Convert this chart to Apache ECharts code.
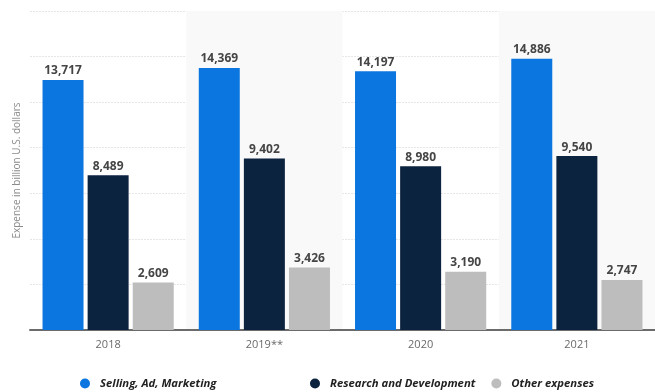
<!DOCTYPE html>
<html>
<head>
<meta charset="utf-8">
<style>
  html, body { margin: 0; padding: 0; background: #fff; }
  #chart { width: 655px; height: 392px; }
</style>
<script src="https://cdn.jsdelivr.net/npm/echarts@6/dist/echarts.min.js"></script>
</head>
<body>
<div id="chart"></div>
<script>
// Expense categories per year (billion U.S. dollars)
const years = ['2018', '2019**', '2020', '2021'];
const sellingAdMarketing = [13717, 14369, 14197, 14886];
const researchDevelopment = [8489, 9402, 8980, 9540];
const otherExpenses = [2609, 3426, 3190, 2747];

const seriesNames = ['Selling, Ad, Marketing', 'Research and Development', 'Other expenses'];
const seriesColors = ['#0b76df', '#0c2340', '#bdbdbd'];

const chart = echarts.init(document.getElementById('chart'), null, { renderer: 'canvas' });

const labelStyle = {
  show: true,
  position: 'top',
  distance: 3,
  color: '#454545',
  fontFamily: 'Open Sans, Arial, sans-serif',
  fontWeight: 'bold',
  fontSize: 12,
  formatter: p => p.value.toLocaleString('en-US')
};

const legendText = {
  color: '#222',
  fontFamily: 'Open Sans, Arial, sans-serif',
  fontStyle: 'italic',
  fontWeight: 'bold',
  fontSize: 11.3,
  padding: [0, 0, 0, 5]
};

function makeSeries(name, data, color) {
  return {
    name: name,
    type: 'bar',
    data: data,
    barWidth: 41,
    barGap: '10%',
    itemStyle: { color: color },
    label: labelStyle,
    emphasis: { disabled: true }
  };
}

chart.setOption({
  animation: false,
  grid: { left: 30, top: 11, width: 632, bottom: 62, containLabel: false },
  legend: [
    {
      data: [seriesNames[0]],
      left: 75, top: 373,
      icon: 'circle', itemWidth: 10, itemHeight: 10,
      textStyle: legendText
    },
    {
      data: [seriesNames[1], seriesNames[2]],
      left: 305, top: 373,
      icon: 'circle', itemWidth: 10, itemHeight: 10, itemGap: 16,
      textStyle: legendText
    }
  ],
  xAxis: {
    type: 'category',
    data: years,
    axisTick: { show: false },
    axisLine: { lineStyle: { color: '#6b6b6b', width: 2 } },
    axisLabel: { color: '#6a6a6a', fontSize: 11, margin: 9, fontFamily: 'Open Sans, Arial, sans-serif' },
    splitArea: { show: true, areaStyle: { color: ['rgba(255,255,255,0)', '#f9f9f9'] } }
  },
  yAxis: {
    type: 'value',
    min: 0, max: 17500, interval: 2500,
    name: 'Expense in billion U.S. dollars',
    nameLocation: 'middle',
    nameGap: 8,
    nameTextStyle: { color: '#8a8a8a', fontSize: 10, fontFamily: 'Open Sans, Arial, sans-serif' },
    axisLabel: { show: false },
    axisLine: { show: false },
    axisTick: { show: false },
    splitLine: { lineStyle: { color: '#e6e6e6', width: 1, type: [2, 1] } }
  },
  series: [
    makeSeries(seriesNames[0], sellingAdMarketing, seriesColors[0]),
    makeSeries(seriesNames[1], researchDevelopment, seriesColors[1]),
    makeSeries(seriesNames[2], otherExpenses, seriesColors[2])
  ]
});
</script>
</body>
</html>
